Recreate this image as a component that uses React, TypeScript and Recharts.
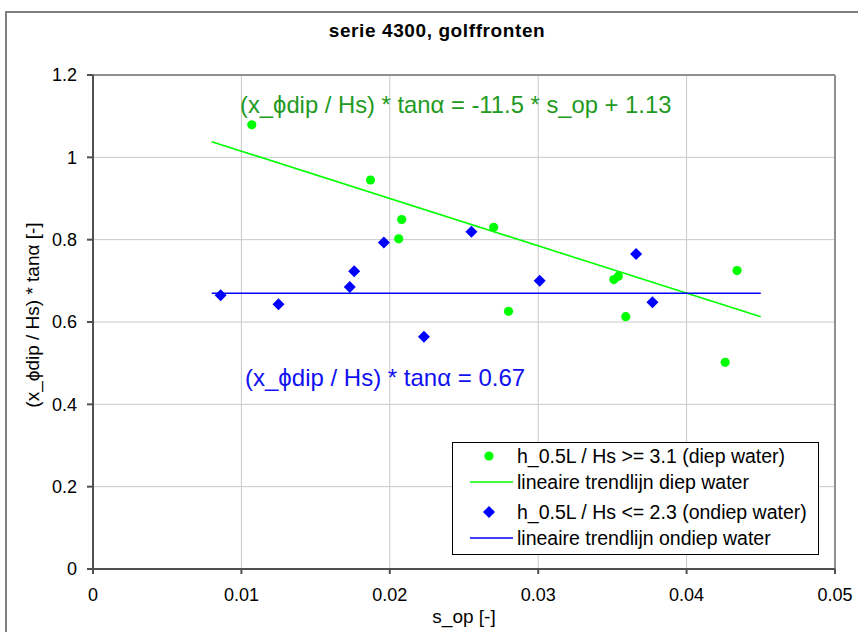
import React from 'react';
import { ScatterChart, Scatter, XAxis, YAxis, CartesianGrid, ReferenceLine } from 'recharts';

const deepX = [0.0107, 0.0187, 0.0208, 0.0206, 0.0270, 0.0280, 0.0351, 0.0354, 0.0359, 0.0426, 0.0434];
const deepY = [1.079, 0.945, 0.849, 0.802, 0.830, 0.626, 0.703, 0.711, 0.613, 0.502, 0.725];

const shallowX = [0.0086, 0.0125, 0.0173, 0.0176, 0.0196, 0.0223, 0.0255, 0.0301, 0.0366, 0.0377];
const shallowY = [0.665, 0.643, 0.685, 0.723, 0.793, 0.564, 0.819, 0.700, 0.765, 0.648];

const deepTrendX = [0.008, 0.045];
const deepTrendY = [1.038, 0.6125];
const shallowTrendX = [0.008, 0.045];
const shallowTrendY = [0.67, 0.67];

const xTicks = [0, 0.01, 0.02, 0.03, 0.04, 0.05];
const yTicks = [0, 0.2, 0.4, 0.6, 0.8, 1, 1.2];

const title = 'serie 4300, golffronten';
const xLabel = 's_op [-]';
const yLabel = '(x_\u03D5dip / Hs) * tan\u03B1 [-]';
const deepEq = '(x_\u03D5dip / Hs) * tan\u03B1 = -11.5 * s_op + 1.13';
const shallowEq = '(x_\u03D5dip / Hs) * tan\u03B1 = 0.67';
const legendLabels = [
  'h_0.5L / Hs >= 3.1 (diep water)',
  'lineaire trendlijn diep water',
  'h_0.5L / Hs <= 2.3 (ondiep water)',
  'lineaire trendlijn ondiep water',
];

const zip = (xs: number[], ys: number[]) => xs.map((x, i) => ({ x, y: ys[i] }));
const deepData = zip(deepX, deepY);
const shallowData = zip(shallowX, shallowY);
const deepTrend = zip(deepTrendX, deepTrendY);
const shallowTrend = zip(shallowTrendX, shallowTrendY);

const GREEN = '#00ff00';
const BLUE = '#0000ff';
const FONT = '"Liberation Sans", Arial, sans-serif';

const Circle = (p: any) => <circle cx={p.cx} cy={p.cy} r={4.6} fill={GREEN} />;
const Diamond = (p: any) => {
  const r = 6;
  return (
    <polygon
      points={`${p.cx},${p.cy - r} ${p.cx + r},${p.cy} ${p.cx},${p.cy + r} ${p.cx - r},${p.cy}`}
      fill={BLUE}
    />
  );
};
const NoShape = () => <g />;

const fmt = (v: number) => String(v);

export default function App() {
  return (
    <div style={{ position: 'absolute', left: 0, top: 0, width: 858, height: 632, background: '#fff', fontFamily: FONT, overflow: 'hidden' }}>
      <div style={{ position: 'absolute', left: 5, top: 11, width: 900, height: 700, border: '2px solid #808080', boxSizing: 'border-box' }} />
      <ScatterChart width={858} height={632} margin={{ top: 75, right: 23, left: 33, bottom: 23 }} style={{ position: 'absolute', left: 0, top: 0 }}>
        <CartesianGrid stroke="#c8c8c8" strokeWidth={1} />
        <XAxis
          type="number"
          dataKey="x"
          domain={[0, 0.05]}
          ticks={xTicks}
          tickFormatter={fmt}
          height={40}
          tickSize={5}
          tickMargin={14}
          stroke="#505050"
          strokeWidth={2}
          tick={{ fill: '#000', fontSize: 18 }}
          interval={0}
        />
        <YAxis
          type="number"
          dataKey="y"
          domain={[0, 1.2]}
          ticks={yTicks}
          tickFormatter={fmt}
          width={60}
          tickSize={6}
          tickMargin={10}
          stroke="#505050"
          strokeWidth={2}
          tick={{ fill: '#000', fontSize: 18 }}
          interval={0}
        />
        <ReferenceLine y={1.2} stroke="#909090" strokeWidth={2} />
        <ReferenceLine x={0.05} stroke="#909090" strokeWidth={2} />
        <Scatter data={deepTrend} line={{ stroke: GREEN, strokeWidth: 1.6 }} lineType="joint" shape={NoShape} isAnimationActive={false} />
        <Scatter data={shallowTrend} line={{ stroke: BLUE, strokeWidth: 1.6 }} lineType="joint" shape={NoShape} isAnimationActive={false} />
        <Scatter data={deepData} shape={Circle} isAnimationActive={false} />
        <Scatter data={shallowData} shape={Diamond} isAnimationActive={false} />
      </ScatterChart>
      <svg width={858} height={632} style={{ position: 'absolute', left: 0, top: 0, pointerEvents: 'none' }}>
        <text x={437} y={30} textAnchor="middle" dominantBaseline="central" fontSize={19} fontWeight="bold" letterSpacing={0.6} fill="#000">{title}</text>
        <text x={464} y={616} textAnchor="middle" dominantBaseline="central" fontSize={19} fill="#000">{xLabel}</text>
        <text x={0} y={0} transform="translate(32,315) rotate(-90)" textAnchor="middle" dominantBaseline="central" fontSize={19} fill="#000">{yLabel}</text>
        <text x={240} y={104} dominantBaseline="central" fontSize={23.8} fill="#229a22">{deepEq}</text>
        <text x={245} y={377} dominantBaseline="central" fontSize={24} fill="#1010f0">{shallowEq}</text>
      </svg>
      <div style={{ position: 'absolute', left: 452, top: 442, width: 367, height: 113, border: '1px solid #000', background: '#fff', boxSizing: 'border-box' }}>
        <svg width={365} height={111} style={{ position: 'absolute', left: 0, top: 0 }}>
          <circle cx={36} cy={13} r={4.6} fill={GREEN} />
          <line x1={17} x2={60} y1={39} y2={39} stroke={GREEN} strokeWidth={1.6} />
          <polygon points="36,63 42,69 36,75 30,69" fill={BLUE} />
          <line x1={17} x2={60} y1={95} y2={95} stroke={BLUE} strokeWidth={1.6} />
          <text x={64} y={13} dominantBaseline="central" fontSize={19.5} fill="#000">{legendLabels[0]}</text>
          <text x={64} y={39} dominantBaseline="central" fontSize={19.5} fill="#000">{legendLabels[1]}</text>
          <text x={64} y={69} dominantBaseline="central" fontSize={19.5} fill="#000">{legendLabels[2]}</text>
          <text x={64} y={95} dominantBaseline="central" fontSize={19.5} fill="#000">{legendLabels[3]}</text>
        </svg>
      </div>
    </div>
  );
}
